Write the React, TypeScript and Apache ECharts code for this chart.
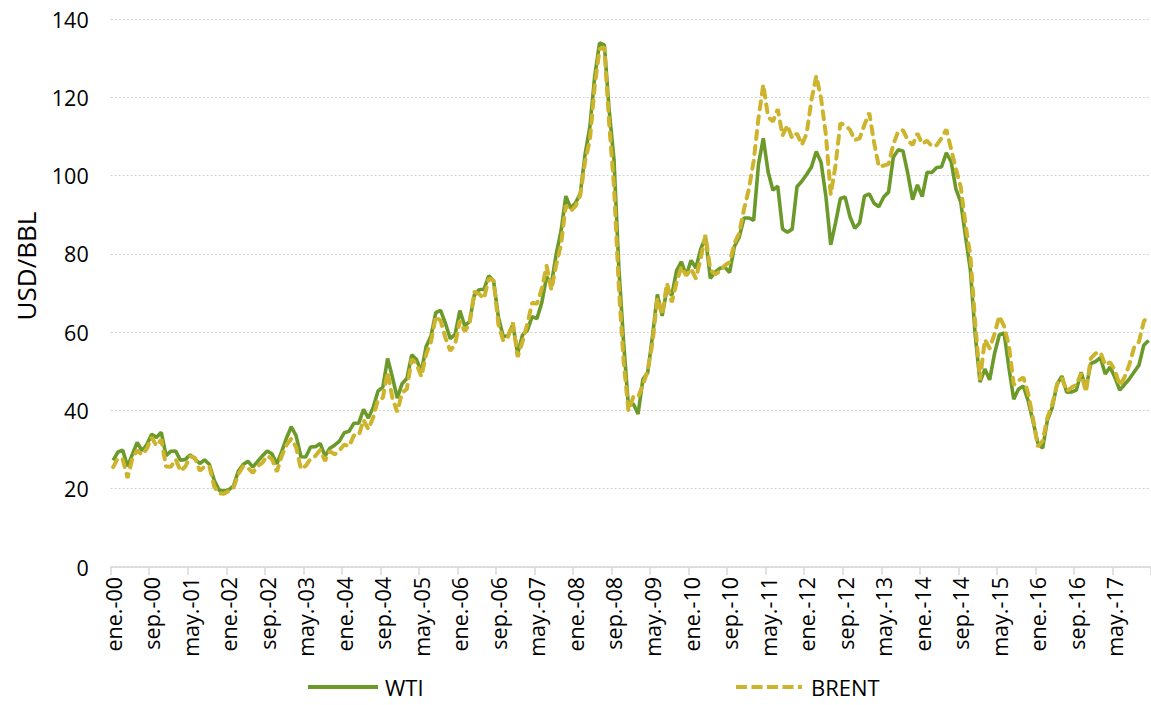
import React, { useEffect, useRef } from "react";
import * as echarts from "echarts";

const monthNames = ["ene.", "feb.", "mar.", "abr.", "may.", "jun.", "jul.", "ago.", "sep.", "oct.", "nov.", "dic."];
const years = ["00", "01", "02", "03", "04", "05", "06", "07", "08", "09", "10", "11", "12", "13", "14", "15", "16", "17"];
const categories: string[] = [];
years.forEach((y) => monthNames.forEach((m) => categories.push(`${m}-${y}`)));

const yTicks = [0, 20, 40, 60, 80, 100, 120, 140];

const wti = [
  27.26, 29.37, 29.84, 25.72, 28.79, 31.82, 29.7, 31.26, 33.88, 33.11, 34.42, 28.44,
  29.59, 29.61, 27.25, 27.49, 28.63, 27.6, 26.43, 27.37, 26.2, 22.17, 19.64, 19.39,
  19.72, 20.72, 24.53, 26.18, 27.04, 25.52, 26.97, 28.39, 29.66, 28.84, 26.35, 29.46,
  32.95, 35.83, 33.51, 28.17, 28.11, 30.66, 30.75, 31.57, 28.31, 30.34, 31.11, 32.13,
  34.31, 34.69, 36.74, 36.75, 40.28, 38.03, 40.78, 44.9, 45.94, 53.28, 48.47, 43.15,
  46.84, 48.15, 54.19, 52.98, 49.83, 56.35, 59.0, 64.99, 65.59, 62.26, 58.32, 59.41,
  65.49, 61.63, 62.69, 69.44, 70.84, 70.95, 74.41, 73.04, 63.8, 58.89, 59.08, 61.96,
  54.51, 59.28, 60.44, 63.98, 63.46, 67.49, 74.12, 72.36, 79.92, 85.8, 94.77, 91.69,
  92.97, 95.39, 105.45, 112.58, 125.4, 133.88, 133.37, 116.67, 104.11, 76.61, 57.31, 41.12,
  41.71, 39.09, 47.94, 49.65, 59.03, 69.64, 64.15, 71.05, 69.41, 75.72, 77.99, 74.47,
  78.33, 76.39, 81.2, 84.29, 73.74, 75.34, 76.32, 76.6, 75.24, 81.89, 84.25, 89.15,
  89.17, 88.58, 102.86, 109.53, 100.9, 96.26, 97.3, 86.33, 85.52, 86.32, 97.16, 98.56,
  100.27, 102.2, 106.16, 103.32, 94.66, 82.3, 87.9, 94.13, 94.51, 89.49, 86.53, 87.86,
  94.76, 95.31, 92.94, 92.02, 94.51, 95.77, 104.67, 106.57, 106.29, 100.54, 93.86, 97.63,
  94.62, 100.82, 100.8, 102.07, 102.18, 105.79, 103.59, 96.54, 93.21, 84.4, 75.79, 59.29,
  47.22, 50.58, 47.82, 54.45, 59.27, 59.82, 50.9, 42.87, 45.48, 46.22, 42.44, 37.19,
  31.68, 30.32, 37.55, 40.75, 46.71, 48.76, 44.65, 44.72, 45.18, 49.78, 45.66, 51.97,
  52.5, 53.47, 49.33, 51.06, 48.48, 45.18, 46.63, 48.04, 49.82, 51.58, 56.64, 57.88,
];

const brent = [
  25.51, 27.78, 27.49, 22.76, 27.74, 29.8, 28.68, 30.2, 33.14, 30.96, 32.55, 25.66,
  25.62, 27.5, 24.5, 25.66, 28.31, 27.85, 24.61, 25.68, 25.62, 20.54, 18.8, 18.71,
  19.42, 20.28, 23.7, 25.73, 25.35, 24.08, 25.74, 26.65, 28.4, 27.54, 24.34, 28.33,
  31.18, 32.77, 30.61, 25.0, 25.86, 27.65, 28.35, 29.89, 27.11, 29.61, 28.75, 29.81,
  31.28, 30.86, 33.63, 33.59, 37.57, 35.18, 38.22, 42.74, 43.2, 49.78, 43.11, 39.6,
  44.51, 45.48, 53.1, 51.88, 48.65, 54.35, 57.52, 63.98, 62.91, 58.54, 55.24, 56.86,
  62.99, 60.21, 62.06, 70.26, 69.78, 68.56, 73.67, 73.23, 61.96, 57.81, 58.76, 62.47,
  53.68, 57.56, 62.05, 67.49, 67.21, 71.05, 76.93, 70.76, 77.17, 82.34, 92.41, 90.93,
  92.18, 94.99, 103.64, 109.07, 122.8, 132.32, 132.72, 113.24, 97.23, 71.58, 52.45, 39.95,
  43.44, 43.32, 46.54, 50.18, 57.3, 68.61, 64.44, 72.51, 67.65, 72.77, 76.66, 74.46,
  76.17, 73.75, 78.83, 84.82, 75.95, 74.76, 75.58, 77.04, 77.84, 82.67, 85.28, 91.45,
  96.52, 103.72, 114.64, 123.26, 114.99, 113.83, 116.97, 110.22, 112.83, 109.55, 110.77, 107.87,
  110.69, 119.33, 125.45, 119.75, 110.34, 95.16, 102.62, 113.36, 112.86, 111.71, 109.06, 109.49,
  112.96, 116.05, 108.47, 102.25, 102.56, 102.92, 107.93, 111.28, 111.6, 109.08, 107.79, 110.76,
  108.12, 108.9, 107.48, 107.76, 109.54, 111.8, 106.77, 101.61, 97.09, 87.43, 79.44, 62.34,
  47.76, 58.1, 55.89, 59.52, 64.08, 61.48, 56.56, 46.52, 47.62, 48.43, 44.27, 38.01,
  30.7, 32.18, 38.21, 41.58, 46.74, 48.25, 44.95, 45.84, 46.57, 49.52, 44.73, 53.31,
  54.58, 54.87, 51.59, 52.31, 50.33, 46.37, 48.48, 51.7, 56.15, 57.51, 62.71, 64.37,
];

const FONT = "'Open Sans', 'Noto Sans', sans-serif";
const WTI_COLOR = "#6B9A2A";
const BRENT_COLOR = "#CDB42C";

const WTI_ICON = "path://M0,0h70v4h-70z";
const BRENT_ICON =
  "path://M0,0h11v4h-11z M15.5,0h11v4h-11z M31,0h11v4h-11z M46.5,0h11v4h-11z M62,0h4v4h-4z";

export default function App() {
  const ref = useRef<HTMLDivElement>(null);

  useEffect(() => {
    document.body.style.margin = "0";
    if (!ref.current) return;
    const chart = echarts.init(ref.current, undefined, { renderer: "svg" });
    const legendText = { color: "#000", fontSize: 22, fontFamily: FONT, padding: [0, 0, 0, 2] };
    chart.setOption({
      animation: false,
      backgroundColor: "#ffffff",
      textStyle: { fontFamily: FONT },
      grid: { left: 110.7, top: 19, width: 1045.3, height: 548, containLabel: false },
      xAxis: {
        type: "category",
        data: categories,
        boundaryGap: true,
        axisLine: { show: true, lineStyle: { color: "#d9d9d9", width: 1.5 } },
        axisTick: { show: true, interval: 7, length: 8, lineStyle: { color: "#d9d9d9", width: 1.5 } },
        axisLabel: {
          interval: 7,
          rotate: 90,
          margin: 10,
          color: "#000",
          fontSize: 21.5,
          fontFamily: FONT,
        },
        splitLine: { show: false },
      },
      yAxis: {
        type: "value",
        min: yTicks[0],
        max: yTicks[yTicks.length - 1],
        interval: 20,
        axisLine: { show: false },
        axisTick: { show: false },
        axisLabel: { color: "#000", fontSize: 21.5, margin: 22, fontFamily: FONT },
        splitLine: { show: true, lineStyle: { color: "#cfcfcf", type: [2, 2], width: 1 } },
      },
      legend: [
        {
          data: [{ name: "WTI", icon: WTI_ICON }],
          left: 308,
          top: 676,
          padding: 0,
          itemWidth: 70,
          itemHeight: 4,
          itemGap: 0,
          textStyle: legendText,
        },
        {
          data: [{ name: "BRENT", icon: BRENT_ICON }],
          left: 736,
          top: 676,
          padding: 0,
          itemWidth: 70,
          itemHeight: 4,
          itemGap: 0,
          textStyle: legendText,
        },
      ],
      graphic: [
        {
          type: "text",
          x: 26,
          y: 266,
          rotation: Math.PI / 2,
          style: {
            text: "USD/BBL",
            align: "center",
            verticalAlign: "middle",
            fontSize: 26,
            fontFamily: FONT,
            fill: "#000",
          },
        },
      ],
      series: [
        {
          name: "WTI",
          type: "line",
          data: wti,
          symbol: "none",
          color: WTI_COLOR,
          lineStyle: { color: WTI_COLOR, width: 3.6 },
          z: 2,
        },
        {
          name: "BRENT",
          type: "line",
          data: brent,
          symbol: "none",
          color: BRENT_COLOR,
          lineStyle: { color: BRENT_COLOR, width: 4, type: [8, 7], cap: "round" },
          z: 3,
        },
      ],
    });
    return () => chart.dispose();
  }, []);

  return (
    <div
      ref={ref}
      style={{ position: "absolute", left: 0, top: 0, width: 1151, height: 705 }}
    />
  );
}
